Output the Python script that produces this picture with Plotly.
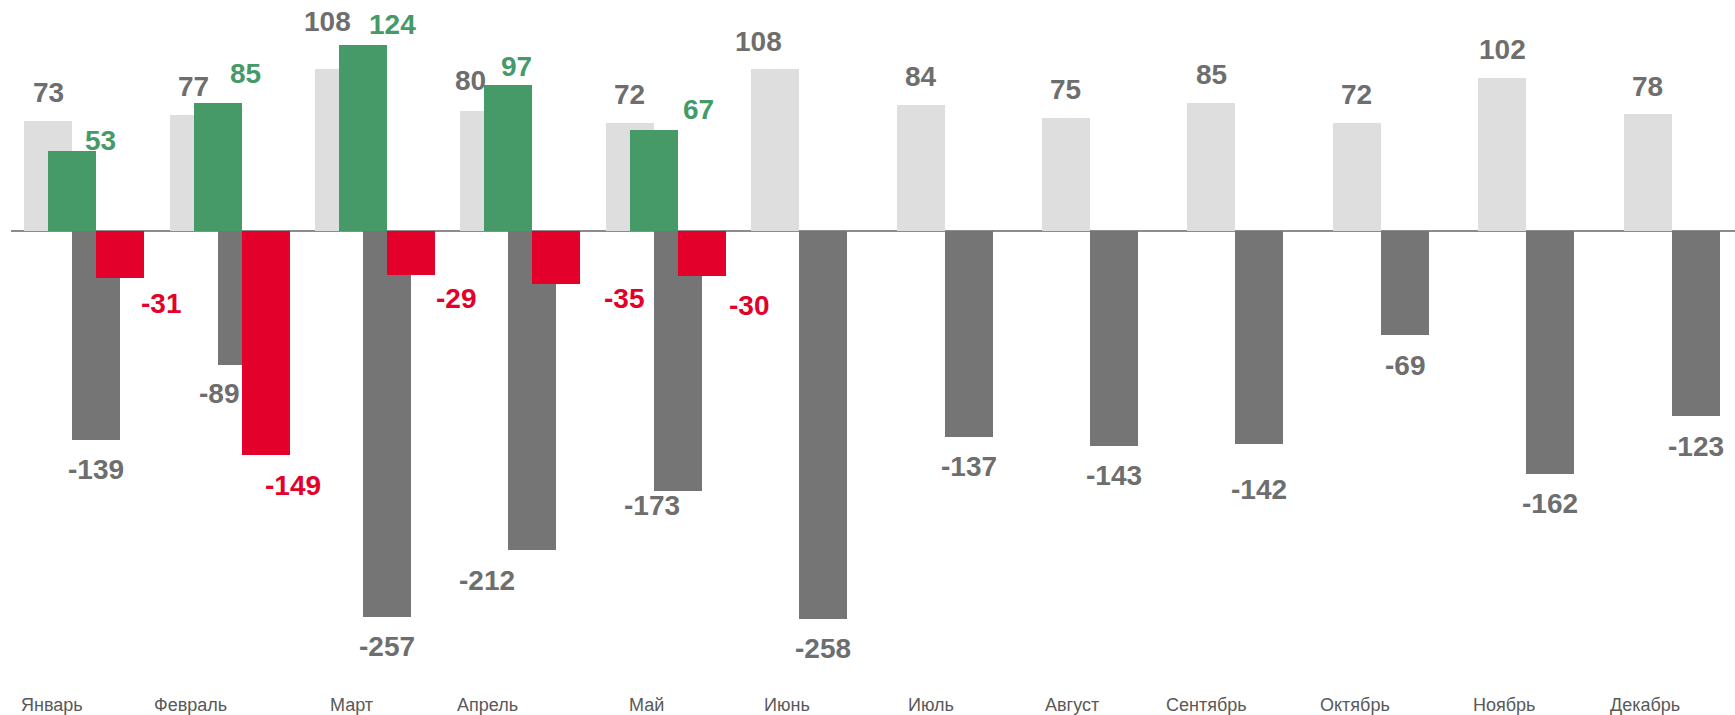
import plotly.graph_objects as go

# ---------------- data ----------------
months = ["Январь", "Февраль", "Март", "Апрель", "Май", "Июнь",
          "Июль", "Август", "Сентябрь", "Октябрь", "Ноябрь", "Декабрь"]
prev_income = [73, 77, 108, 80, 72, 108, 84, 75, 85, 72, 102, 78]
cur_income = [53, 85, 124, 97, 67]
prev_loss = [-139, -89, -257, -212, -173, -258, -137, -143, -142, -69, -162, -123]
cur_loss = [-31, -149, -29, -35, -30]

# ---------------- styling / geometry ----------------
W, H = 1735, 715
PLOT_L, PLOT_B = 11, 693          # plot area left edge, bottom edge (px)
ZERO_PX = 231                     # y pixel of zero line
PX_PER_UNIT = 1.503               # vertical px per value unit
PX_PER_CAT = 145.4                # horizontal px per month
FIRST_TICK_PX = 52.8
BAR_PX = 48.0
STEP_PX = 24.0
FIRST_BAR_OFF_PX = -28.7

x0 = -(FIRST_TICK_PX - PLOT_L) / PX_PER_CAT
x1 = x0 + (W - PLOT_L) / PX_PER_CAT
y_top = ZERO_PX / PX_PER_UNIT
y_bot = -(PLOT_B - ZERO_PX) / PX_PER_UNIT
bar_w = BAR_PX / PX_PER_CAT
offs = [(FIRST_BAR_OFF_PX + k * STEP_PX) / PX_PER_CAT for k in range(4)]

C_LIGHT = "#DEDEDE"
C_GREEN = "#469A68"
C_DARK = "#757575"
C_RED = "#E3002B"
C_TEXT = "#6E6E6E"
C_MONTH = "#595959"
FONT = "Liberation Sans, Arial, sans-serif"

# label nudges (px): horizontal shift and gap between text and bar end
light_dx = [0, 0, -11, -14, 0, -17, 0, 0, 0, 0, 0, 0]
light_gap = [18, 18, 37, 20, 18, 17, 18, 18, 18, 18, 18, 17]
green_dx = [28, 28, 29.5, 8.4, 45]
green_gap = [0, 19.5, 10, 8, 10]
dark_dx = [0, -22.5, 0, -45, -26, 0, 0, 0, 0, 0, 0, 0]
dark_gap = [18, 17, 18, 19, 3, 18, 18, 18, 34, 19, 18, 19]
red_dx = [41, 27, 45, 68, 47]
red_gap = [14, 19, 12, 3, 18]
month_dx = [-1, -7.6, 7.4, -2, 12.3, 7, 6.2, 1.3, -10, -6.4, -2.8, -7.2]
D_BOTTOM = 7   # distance glyph bottom -> annotation box bottom
D_TOP = 6      # distance annotation box top -> glyph top

fig = go.Figure()
series = [
    (prev_income, C_LIGHT, offs[0], C_TEXT, light_dx, light_gap),
    (cur_income, C_GREEN, offs[1], C_GREEN, green_dx, green_gap),
    (prev_loss, C_DARK, offs[2], C_TEXT, dark_dx, dark_gap),
    (cur_loss, C_RED, offs[3], C_RED, red_dx, red_gap),
]
annotations = []
for vals, col, off, tcol, dxs, gaps in series:
    xs = list(range(len(vals)))
    fig.add_trace(go.Bar(
        x=xs, y=vals, width=bar_w, offset=off,
        marker=dict(color=col, line=dict(width=0)),
        hoverinfo="x+y", showlegend=False,
    ))
    for i, v in enumerate(vals):
        pos = v >= 0
        annotations.append(dict(
            x=i + off + bar_w / 2, y=v, xref="x", yref="y",
            text=str(v), showarrow=False,
            xanchor="center", yanchor="bottom" if pos else "top",
            xshift=dxs[i],
            yshift=(gaps[i] - D_BOTTOM) if pos else -(gaps[i] - D_TOP),
            font=dict(family=FONT, size=28, color=tcol, weight="bold"),
        ))

# month labels below the plot area
for i, m in enumerate(months):
    annotations.append(dict(
        x=i, y=0, xref="x", yref="paper", text=m, showarrow=False,
        xanchor="center", yanchor="top", xshift=month_dx[i], yshift=0,
        font=dict(family=FONT, size=18, color=C_MONTH),
    ))

fig.update_layout(
    width=W, height=H,
    margin=dict(l=PLOT_L, r=0, t=0, b=H - PLOT_B, pad=0),
    paper_bgcolor="white", plot_bgcolor="white",
    barmode="overlay", bargap=0,
    annotations=annotations,
    xaxis=dict(range=[x0, x1], tickvals=list(range(12)), ticktext=months,
               showticklabels=False,
               showgrid=False, zeroline=False, showline=False, ticks="",
               fixedrange=True),
    yaxis=dict(range=[y_bot, y_top], showgrid=False, showticklabels=False,
               zeroline=True, zerolinecolor="#8C8C8C", zerolinewidth=2,
               showline=False, ticks="", fixedrange=True),
)

fig.write_html("out.html", config={"displayModeBar": False})

# remove the browser's default page margin so the figure fills the window
with open("out.html", "r", encoding="utf-8") as f:
    html = f.read()
html = html.replace("<head>", "<head><style>html,body{margin:0;padding:0;overflow:hidden;}</style>", 1)
with open("out.html", "w", encoding="utf-8") as f:
    f.write(html)
